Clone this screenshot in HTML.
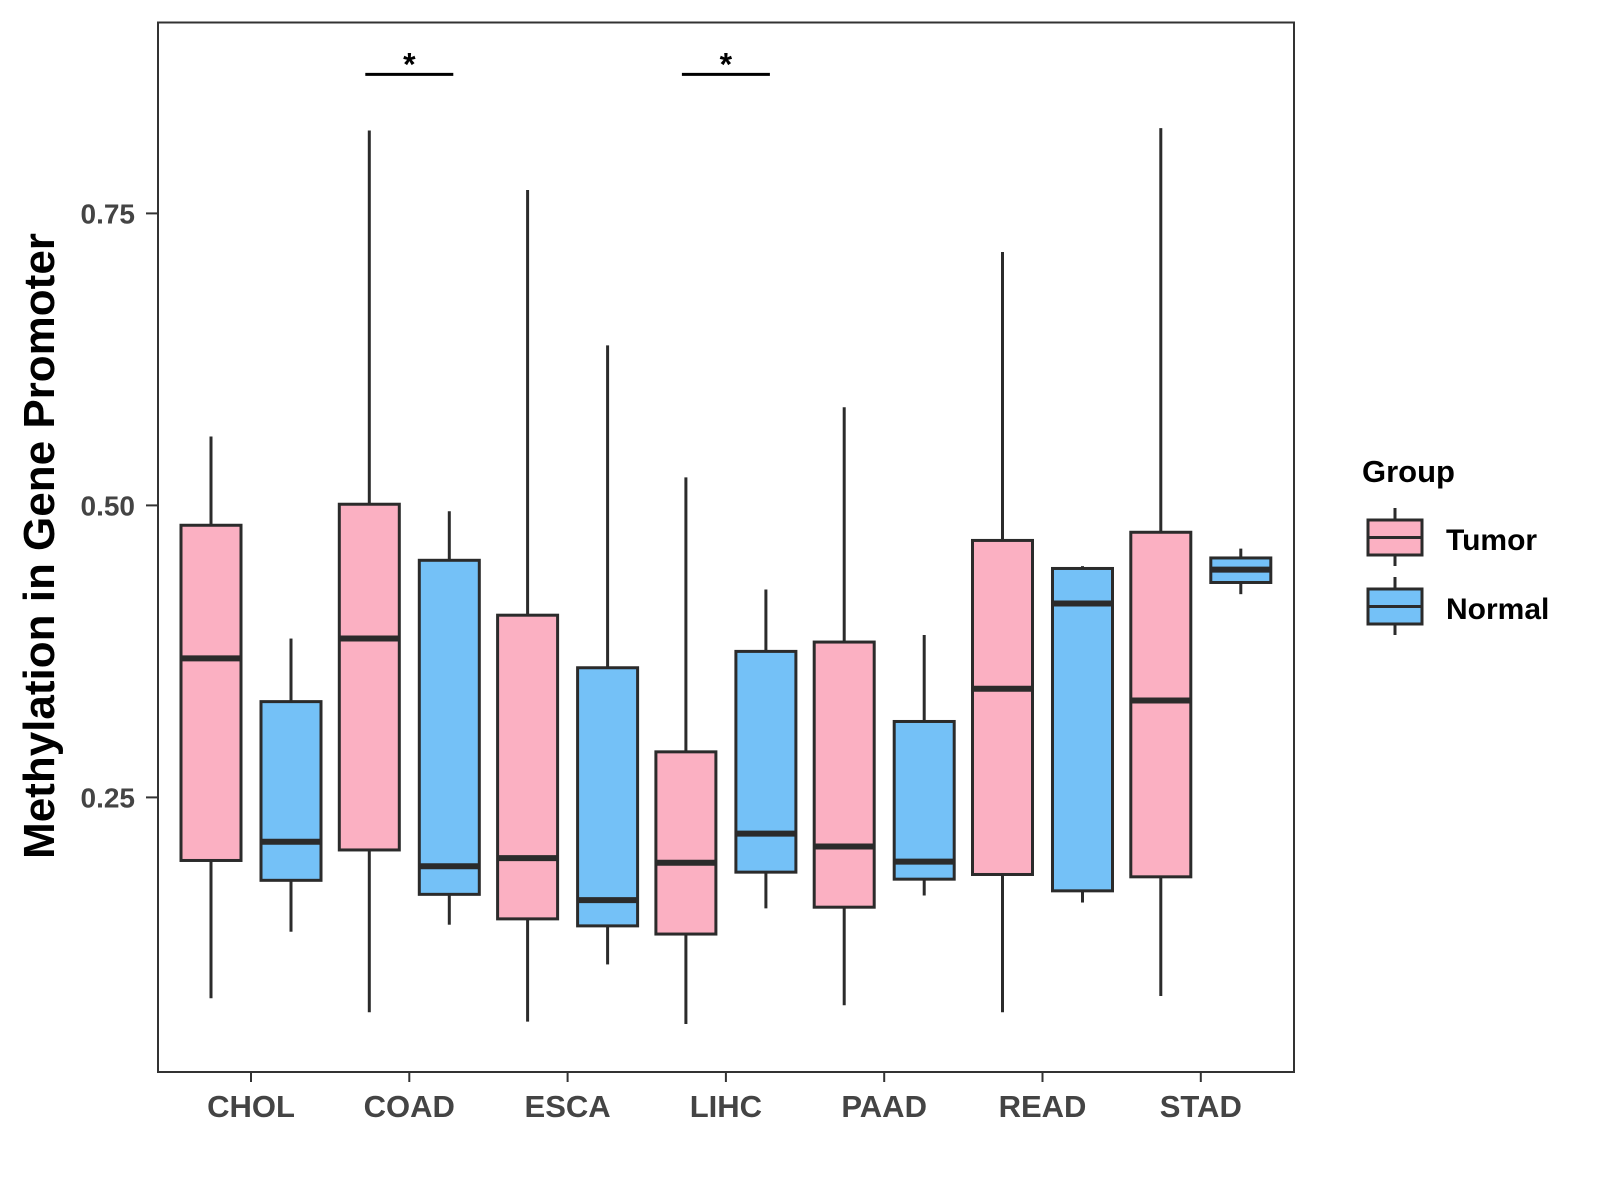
<!DOCTYPE html>
<html><head><meta charset="utf-8"><style>
body{margin:0;background:#fff;}
svg{display:block;font-family:"Liberation Sans",Arial,sans-serif;}
</style></head><body>
<svg id="chart" width="1600" height="1200" viewBox="0 0 1600 1200">
<rect x="0" y="0" width="1600" height="1200" fill="#fff"/>
<g id="marks"></g>
<rect x="158" y="22.5" width="1136" height="1049.5" fill="none" stroke="#333" stroke-width="2"/>
<g id="axes"></g>
<text transform="translate(54,546) rotate(-90)" text-anchor="middle" font-size="44" font-weight="bold" fill="#000">Methylation in Gene Promoter</text>
<g>
<text x="1362" y="482" font-size="31" font-weight="bold">Group</text>
<g>
<line x1="1395" y1="508" x2="1395" y2="566" stroke="#2b2b2b" stroke-width="3"/>
<rect x="1368" y="520" width="54" height="35" fill="#FBB0C2" stroke="#2b2b2b" stroke-width="3"/>
<line x1="1368" y1="537.5" x2="1422" y2="537.5" stroke="#2b2b2b" stroke-width="3"/>
<text x="1446" y="550" font-size="30" font-weight="bold">Tumor</text>
</g>
<g>
<line x1="1395" y1="577" x2="1395" y2="635" stroke="#2b2b2b" stroke-width="3"/>
<rect x="1368" y="589" width="54" height="35" fill="#74C1F7" stroke="#2b2b2b" stroke-width="3"/>
<line x1="1368" y1="606.5" x2="1422" y2="606.5" stroke="#2b2b2b" stroke-width="3"/>
<text x="1446" y="619" font-size="30" font-weight="bold">Normal</text>
</g>
</g>
</svg>
<script>
const categories = ["CHOL","COAD","ESCA","LIHC","PAAD","READ","STAD"];
// [lower whisker, q1, median, q3, upper whisker]
const tumorStats = [
 [0.078,0.196,0.369,0.483,0.559],
 [0.066,0.205,0.386,0.501,0.821],
 [0.058,0.146,0.198,0.406,0.770],
 [0.056,0.133,0.194,0.289,0.524],
 [0.072,0.156,0.208,0.383,0.584],
 [0.066,0.184,0.343,0.470,0.717],
 [0.080,0.182,0.333,0.477,0.823]
];
const normalStats = [
 [0.135,0.179,0.212,0.332,0.386],
 [0.141,0.167,0.191,0.453,0.495],
 [0.107,0.140,0.162,0.361,0.637],
 [0.155,0.186,0.219,0.375,0.428],
 [0.166,0.180,0.195,0.315,0.389],
 [0.160,0.170,0.416,0.446,0.448],
 [0.424,0.434,0.445,0.455,0.463]
];
const yTicks = [0.25,0.50,0.75];
const yTickLabels = ["0.25","0.50","0.75"];
const sigCategories = ["COAD","LIHC"];
const sigLevel = 0.869;

const NS="http://www.w3.org/2000/svg";
function y(v){return 505.4-(v-0.5)*1168;}
function x(i){return 251+i*158.3;}
function mk(tag,attrs,parent){const e=document.createElementNS(NS,tag);for(const k in attrs)e.setAttribute(k,attrs[k]);parent.appendChild(e);return e;}
const marks=document.getElementById('marks'), axes=document.getElementById('axes');
const stroke="#2b2b2b";
function drawBox(s,cx,fill,name){
  const g=mk('g',{},marks);
  
  
  mk('line',{x1:cx,x2:cx,y1:y(s[4]),y2:y(s[3]),stroke:stroke,'stroke-width':3},g);
  mk('line',{x1:cx,x2:cx,y1:y(s[1]),y2:y(s[0]),stroke:stroke,'stroke-width':3},g);
  mk('rect',{x:cx-30,y:y(s[3]),width:60,height:y(s[1])-y(s[3]),fill:fill,stroke:stroke,'stroke-width':3},g);
  mk('line',{x1:cx-30,x2:cx+30,y1:y(s[2]),y2:y(s[2]),stroke:stroke,'stroke-width':6},g);
}
categories.forEach((c,i)=>{
  drawBox(tumorStats[i],x(i)-40,"#FBB0C2","box-"+c.toLowerCase()+"-tumor");
  drawBox(normalStats[i],x(i)+40,"#74C1F7","box-"+c.toLowerCase()+"-normal");
  const t=mk('line',{x1:x(i),x2:x(i),y1:1072,y2:1082,stroke:"#333",'stroke-width':2},axes);
  
  
  const l=mk('text',{x:x(i),y:1117,'text-anchor':'middle','font-size':31,'font-weight':'bold',fill:'#444'},axes);
  l.textContent=c;
  
  
});
yTicks.forEach((v,i)=>{
  const t=mk('line',{x1:146,x2:158,y1:y(v),y2:y(v),stroke:"#333",'stroke-width':2},axes);
  
  
  const l=mk('text',{x:135,y:y(v)+10,'text-anchor':'end','font-size':28,'font-weight':'bold',fill:'#444'},axes);
  l.textContent=yTickLabels[i];
  
  
});
sigCategories.forEach(c=>{
  const i=categories.indexOf(c);
  const g=mk('g',{},marks);
  
  
  mk('line',{x1:x(i)-44,x2:x(i)+44,y1:y(sigLevel),y2:y(sigLevel),stroke:'#000','stroke-width':3},g);
  const s=mk('text',{x:x(i),y:y(sigLevel)+1,'text-anchor':'middle','font-size':32,'font-weight':'bold'},g);
  s.textContent='*';
});
</script>
</body></html>
